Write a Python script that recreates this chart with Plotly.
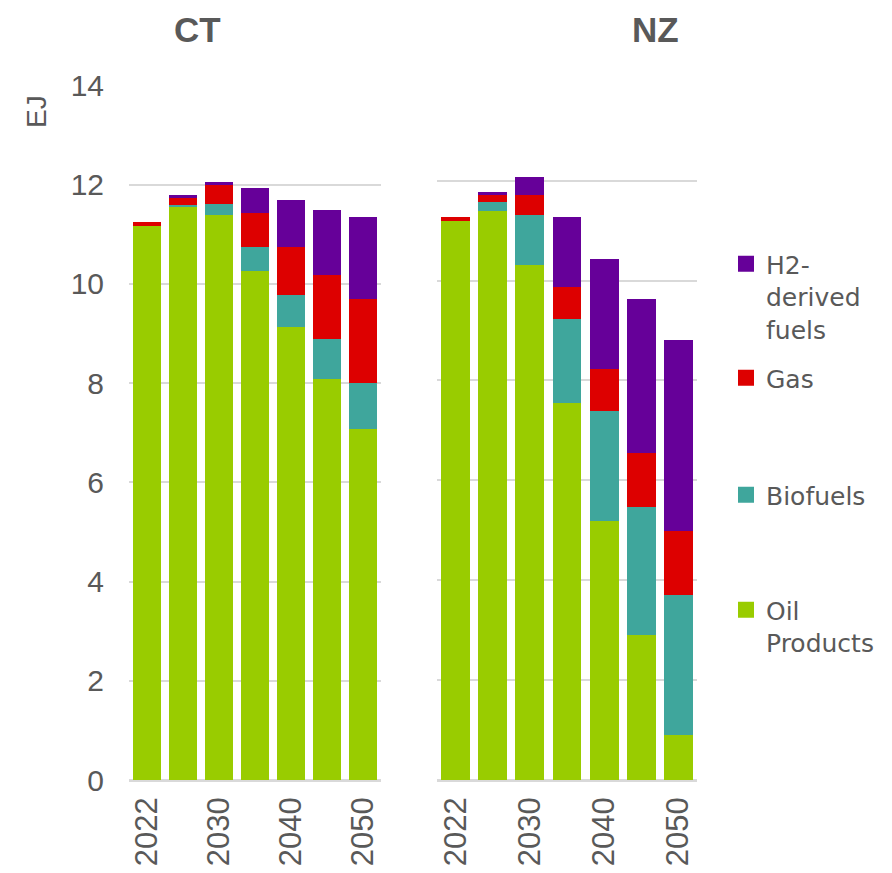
import plotly.graph_objects as go

years = ["2022", "2025", "2030", "2035", "2040", "2045", "2050"]
tick_years = ["2022", "2030", "2040", "2050"]

ct_oil = [11.17, 11.57, 11.39, 10.26, 9.14, 8.09, 7.07]
ct_bio = [0.00, 0.03, 0.23, 0.48, 0.64, 0.80, 0.93]
ct_gas = [0.08, 0.16, 0.40, 0.68, 0.96, 1.29, 1.69]
ct_h2 = [0.00, 0.04, 0.04, 0.52, 0.96, 1.32, 1.65]

nz_oil = [11.19, 11.39, 10.31, 7.54, 5.19, 2.90, 0.90]
nz_bio = [0.00, 0.19, 1.00, 1.69, 2.19, 2.56, 2.80]
nz_gas = [0.08, 0.13, 0.40, 0.64, 0.84, 1.08, 1.29]
nz_h2 = [0.00, 0.07, 0.36, 1.40, 2.21, 3.09, 3.83]

series_names = ["Oil<br>Products", "Biofuels", "Gas", "H2-<br>derived<br>fuels"]
colors = ["#99CC00", "#3FA69C", "#DD0000", "#660099"]
legend_ids = ["legend4", "legend3", "legend2", "legend"]

FONT = "Liberation Sans, Arial, sans-serif"
LEG_FONT = "DejaVu Sans, Liberation Sans, sans-serif"
GREY = "#595959"
OFF = 8  # page body margin
W, H = 892 - 2 * OFF, 873 - 2 * OFF

fig = go.Figure()
ct = [ct_oil, ct_bio, ct_gas, ct_h2]
nz = [nz_oil, nz_bio, nz_gas, nz_h2]
for i in range(4):
    fig.add_trace(go.Bar(x=years, y=ct[i], marker=dict(color=colors[i], line=dict(width=0)),
                         name=series_names[i], showlegend=False, xaxis="x", yaxis="y"))
    fig.add_trace(go.Bar(x=years, y=nz[i], marker=dict(color=colors[i], line=dict(width=0)),
                         name=series_names[i], showlegend=False, xaxis="x2", yaxis="y2"))
    # legend entry
    fig.add_trace(go.Scatter(x=[None], y=[None], mode="markers",
                             marker=dict(symbol="square", size=16, color=colors[i]),
                             name=series_names[i], legend=legend_ids[i],
                             xaxis="x", yaxis="y"))

def px_x(p):
    return (p - OFF) / W

def px_y(p):
    return 1 - (p - OFF) / H

axis_font = dict(family=FONT, size=30, color=GREY)

xcommon = dict(type="category", categoryorder="array", categoryarray=years,
               tickvals=tick_years, ticktext=tick_years, tickangle=-90,
               tickfont=dict(family=FONT, size=31, color=GREY),
               showgrid=False, zeroline=False, showline=False,
               ticks="", ticklabelstandoff=10, automargin=False)

legend_common = dict(font=dict(family=LEG_FONT, size=25, color=GREY), xanchor="left",
                     yanchor="top", valign="top", bgcolor="rgba(0,0,0,0)",
                     itemsizing="trace", x=px_x(726))

fig.update_layout(
    width=W, height=H,
    margin=dict(l=0, r=0, t=0, b=0, autoexpand=False),
    paper_bgcolor="white", plot_bgcolor="white",
    barmode="stack", bargap=0.22,
    font=dict(family=FONT, color=GREY),
    xaxis=dict(domain=[px_x(129), px_x(381)], anchor="y", **xcommon),
    xaxis2=dict(domain=[px_x(437), px_x(697)], anchor="y2", **xcommon),
    yaxis=dict(domain=[px_y(780), px_y(85.5)], range=[0, 14], tickvals=list(range(0, 15, 2)),
               tickfont=axis_font, showgrid=True, gridcolor="#D9D9D9", gridwidth=1.5,
               zeroline=True, zerolinecolor="#D9D9D9", zerolinewidth=2.5,
               showline=False, ticks="", ticklabelstandoff=24, anchor="x", automargin=False),
    yaxis2=dict(domain=[px_y(780), px_y(80.8)], range=[0, 14], tickvals=list(range(0, 15, 2)),
                showticklabels=False, showgrid=True, gridcolor="#D9D9D9", gridwidth=1.5,
                zeroline=True, zerolinecolor="#D9D9D9", zerolinewidth=2.5,
                showline=False, ticks="", anchor="x2", automargin=False),
    legend=dict(y=px_y(241), **legend_common),
    legend2=dict(y=px_y(355), **legend_common),
    legend3=dict(y=px_y(472), **legend_common),
    legend4=dict(y=px_y(587), **legend_common),
    annotations=[
        dict(text="<b>CT</b>", x=px_x(197.5), y=1, xref="paper", yref="paper",
             xanchor="center", yanchor="top", showarrow=False,
             font=dict(family=FONT, size=35, color=GREY)),
        dict(text="<b>NZ</b>", x=px_x(655), y=1, xref="paper", yref="paper",
             xanchor="center", yanchor="top", showarrow=False,
             font=dict(family=FONT, size=35, color=GREY)),
        dict(text="EJ", x=px_x(36), y=px_y(112), xref="paper", yref="paper",
             xanchor="center", yanchor="middle", showarrow=False, textangle=-90,
             font=dict(family=FONT, size=28, color=GREY)),
    ],
)

fig.write_html("out.html")
